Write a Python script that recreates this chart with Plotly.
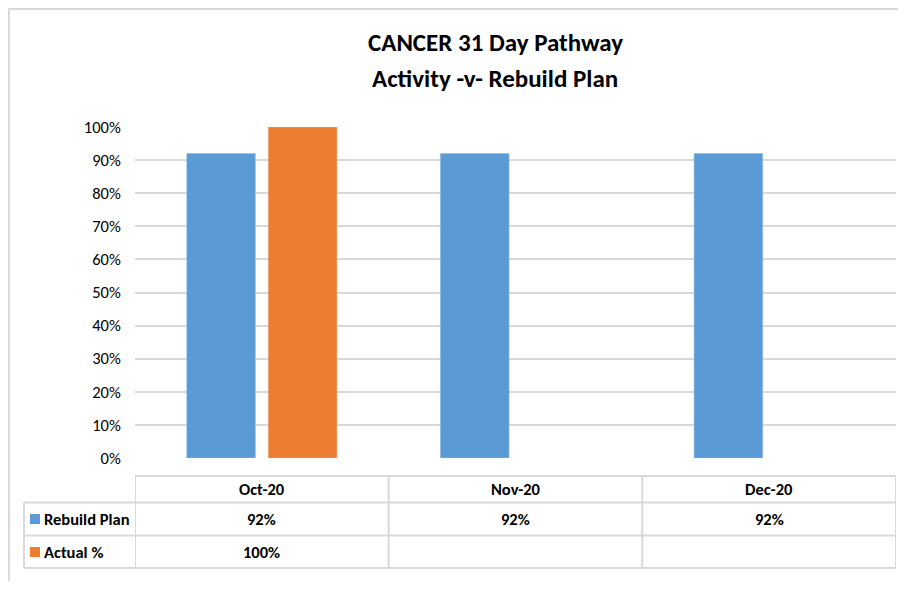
"""Cancer 31 day pathway: activity vs rebuild plan, with data table."""

import plotly.graph_objects as go

months = ["Oct-20", "Nov-20", "Dec-20"]
rebuild_plan = [0.92, 0.92, 0.92]
actual_pct = [1.00, None, None]
series_names = ["Rebuild Plan", "Actual %"]
y_ticks = [i / 10 for i in range(11)]

BLUE = "#5B9BD5"
ORANGE = "#ED7D31"
GRID = "#D9D9D9"
FONT = "Carlito, Liberation Sans Narrow, DejaVu Sans Condensed, Arial Narrow, sans-serif"

# the page puts the figure 8px in from the top-left corner (body margin),
# so keep the figure small enough to avoid scrollbars
OFF = 8
W, H = 906 - 2 * OFF, 589 - 2 * OFF
L, R, T = 135 - OFF, 2, 127 - OFF
B = H - (458 - OFF)
plot_h = H - T - B


def py(pix):
    """Page pixel row -> paper y."""
    return (H - B - (pix - OFF)) / plot_h


def px_(pix):
    """Page pixel column -> paper x."""
    return (pix - OFF - L) / (W - L - R)


fig = go.Figure()

fig.add_trace(go.Bar(
    name=series_names[0], x=months, y=rebuild_plan,
    marker={"color": BLUE, "line": {"color": "#8DB8E3", "width": 0.6}},
))
fig.add_trace(go.Bar(
    name=series_names[1], x=months, y=actual_pct,
    marker={"color": ORANGE, "line": {"color": "#F3A46F", "width": 0.6}},
))

shapes = []
annotations = []

# outer frame (top and left edges)
shapes.append(dict(type="line", xref="paper", yref="paper",
                   x0=px_(OFF), x1=px_(906), y0=py(OFF + 1), y1=py(OFF + 1),
                   line={"color": GRID, "width": 2}))
shapes.append(dict(type="line", xref="paper", yref="paper",
                   x0=px_(OFF + 1), x1=px_(OFF + 1), y0=py(OFF), y1=py(589),
                   line={"color": GRID, "width": 2}))

# data table grid
row_lines = [476, 502.5, 535.5, 568]
line_style = {"color": GRID, "width": 2}
shapes.append(dict(type="line", xref="x", yref="paper", x0=-0.5, x1=2.5,
                   y0=py(row_lines[0]), y1=py(row_lines[0]), line=line_style))
for yy in row_lines[1:]:
    shapes.append(dict(type="line", xref="paper", yref="paper", x0=px_(24), x1=1,
                       y0=py(yy), y1=py(yy), line=line_style))
for xx in [-0.5, 0.5, 1.5, 2.5]:
    shapes.append(dict(type="line", xref="x", yref="paper", x0=xx, x1=xx,
                       y0=py(row_lines[0]), y1=py(row_lines[-1]), line=line_style))
shapes.append(dict(type="line", xref="paper", yref="paper", x0=px_(24), x1=px_(24),
                   y0=py(row_lines[1]), y1=py(row_lines[-1]), line=line_style))

# legend keys in the table
for color, y0, y1 in [(BLUE, 514, 524), (ORANGE, 547, 557)]:
    shapes.append(dict(type="rect", xref="paper", yref="paper",
                       x0=px_(30), x1=px_(40), y0=py(y1), y1=py(y0),
                       fillcolor=color, line={"width": 0}))

cell_font = {"family": FONT, "size": 16.5, "color": "#000000"}
for i, m in enumerate(months):
    annotations.append(dict(text=f"<b>{m}</b>", x=i, xref="x", y=py(489), yref="paper",
                            xanchor="center", yanchor="middle",
                            showarrow=False, font=cell_font))
    for vals, row_y in [(rebuild_plan, 519), (actual_pct, 552)]:
        if vals[i] is not None:
            annotations.append(dict(text=f"<b>{vals[i]:.0%}</b>", x=i, xref="x",
                                    y=py(row_y), yref="paper", xanchor="center",
                                    yanchor="middle", showarrow=False, font=cell_font))

for name, row_y in zip(series_names, [519, 552]):
    annotations.append(dict(text=f"<b>{name}</b>", x=px_(42), xref="paper", xanchor="left",
                            y=py(row_y), yref="paper", yanchor="middle",
                            showarrow=False, font=cell_font))

# title
title_font = {"family": FONT, "size": 25, "color": "#000000"}
for text, row_y in [("CANCER 31 Day Pathway", 42), ("Activity -v- Rebuild Plan", 78)]:
    annotations.append(dict(text=f"<b>{text}</b>", x=px_(495), xref="paper", y=py(row_y),
                            yref="paper", xanchor="center", yanchor="middle",
                            showarrow=False, font=title_font))

fig.update_layout(
    width=W, height=H,
    margin={"l": L, "r": R, "t": T, "b": B},
    paper_bgcolor="white", plot_bgcolor="white",
    barmode="group", bargap=0.357, bargroupgap=0.159,
    showlegend=False,
    shapes=shapes, annotations=annotations,
    xaxis={"showticklabels": False, "showgrid": False, "zeroline": False,
           "range": [-0.5, 2.5]},
    yaxis={"range": [0, 1], "tickvals": y_ticks, "tickformat": ".0%",
           "showgrid": True, "gridcolor": GRID, "gridwidth": 2, "zeroline": False,
           "ticks": "outside", "ticklen": 10, "tickcolor": "rgba(0,0,0,0)",
           "tickfont": {"family": FONT, "size": 16.5, "color": "#000000"}},
    font={"family": FONT},
)

fig.write_html("out.html")
